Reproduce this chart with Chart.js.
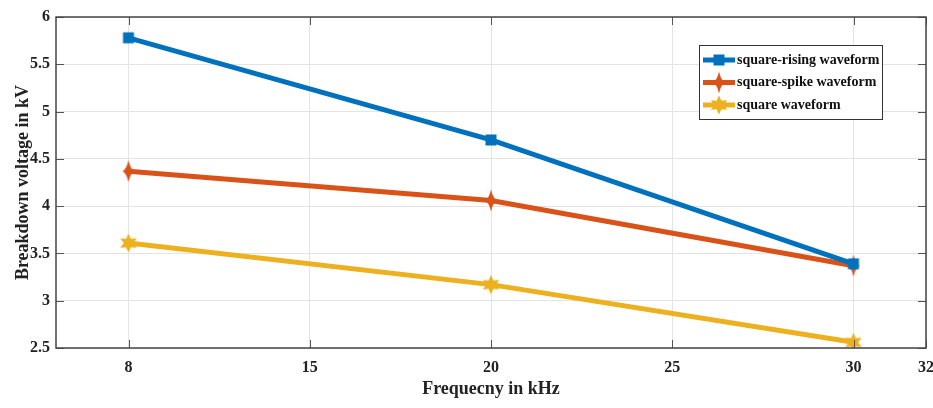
<!DOCTYPE html>
<html>
<head>
<meta charset="utf-8">
<script src="https://cdn.jsdelivr.net/npm/chart.js@4"></script>
<style>
  html, body { margin: 0; padding: 0; background: #fff; }
  #wrap { width: 933px; height: 408px; }
</style>
</head>
<body>
<div id="wrap"><canvas id="chart"></canvas></div>
<script>
// frequency of each measurement (kHz) and where it sits on the plot axis
const frequencies = [8, 20, 30];
const xPositions = [10, 20, 30];
const tickPositions = [10, 15, 20, 25, 30, 32];
const tickLabels = ["8", "15", "20", "25", "30", "32"];

const squareRising = [5.78, 4.70, 3.39];
const squareSpike = [4.37, 4.06, 3.37];
const squareWave = [3.61, 3.17, 2.56];

const seriesNames = ["square-rising waveform", "square-spike waveform", "square waveform"];
const colors = ["#0072BD", "#D95319", "#EDB120"];

const serif = "'Liberation Serif', 'DejaVu Serif', serif";

function marker(kind, color, size) {
  const c = document.createElement("canvas");
  c.width = size; c.height = size;
  const g = c.getContext("2d");
  const m = size / 2;
  g.fillStyle = color;
  g.beginPath();
  if (kind === "square") {
    g.rect(m - 5.5, m - 5.5, 11, 11);
  } else if (kind === "diamond") {
    // tall four-point star like marker
    g.moveTo(m, m - 11);
    g.quadraticCurveTo(m + 2, m - 2, m + 6, m);
    g.quadraticCurveTo(m + 2, m + 2, m, m + 11);
    g.quadraticCurveTo(m - 2, m + 2, m - 6, m);
    g.quadraticCurveTo(m - 2, m - 2, m, m - 11);
  } else {
    // six point star
    for (let i = 0; i < 12; i++) {
      const r = i % 2 === 0 ? 9.5 : 4.8;
      const a = -Math.PI / 2 + i * Math.PI / 6;
      const px = m + r * Math.cos(a), py = m + r * Math.sin(a);
      if (i === 0) g.moveTo(px, py); else g.lineTo(px, py);
    }
  }
  g.closePath();
  g.fill();
  return c;
}

const markers = [
  marker("square", colors[0], 24),
  marker("diamond", colors[1], 24),
  marker("star", colors[2], 24)
];

function pts(values) {
  return values.map((v, i) => ({ x: xPositions[i], y: v, f: frequencies[i] }));
}

const frameAndLegend = {
  id: "frameAndLegend",
  afterDatasetsDraw(chart) {
    const { ctx, chartArea: a, scales } = chart;
    ctx.save();
    // inward tick marks
    ctx.strokeStyle = "#555";
    ctx.lineWidth = 1;
    scales.y.ticks.forEach(t => {
      const y = Math.round(scales.y.getPixelForValue(t.value)) + 0.5;
      ctx.beginPath();
      ctx.moveTo(a.left, y); ctx.lineTo(a.left + 8, y);
      ctx.moveTo(a.right, y); ctx.lineTo(a.right - 8, y);
      ctx.stroke();
    });
    scales.x.ticks.forEach(t => {
      const x = Math.round(scales.x.getPixelForValue(t.value)) + 0.5;
      ctx.beginPath();
      ctx.moveTo(x, a.bottom); ctx.lineTo(x, a.bottom - 8);
      ctx.moveTo(x, a.top); ctx.lineTo(x, a.top + 8);
      ctx.stroke();
    });
    // axes box
    ctx.strokeStyle = "#444";
    ctx.lineWidth = 1.5;
    ctx.strokeRect(a.left, a.top, a.right - a.left, a.bottom - a.top);

    // legend box
    const bx = 699, by = 45, bw = 183, bh = 74;
    ctx.fillStyle = "#fff";
    ctx.fillRect(bx, by, bw, bh);
    ctx.strokeStyle = "#333";
    ctx.lineWidth = 1;
    ctx.strokeRect(bx + 0.5, by + 0.5, bw, bh);
    ctx.font = "bold 14px " + serif;
    ctx.textBaseline = "middle";
    seriesNames.forEach((name, i) => {
      const y = by + 15 + i * 22.5;
      ctx.strokeStyle = colors[i];
      ctx.lineWidth = 5;
      ctx.beginPath();
      ctx.moveTo(bx + 4, y); ctx.lineTo(bx + 36, y);
      ctx.stroke();
      ctx.drawImage(markers[i], bx + 20 - 12, y - 12);
      ctx.fillStyle = "#111";
      ctx.fillText(name, bx + 38, y);
    });
    ctx.restore();
  }
};

new Chart(document.getElementById("chart"), {
  type: "line",
  data: {
    datasets: [squareRising, squareSpike, squareWave].map((vals, i) => ({
      label: seriesNames[i],
      data: pts(vals),
      borderColor: colors[i],
      backgroundColor: colors[i],
      borderWidth: 5,
      pointStyle: markers[i],
      pointRadius: 10,
      tension: 0
    }))
  },
  options: {
    responsive: true,
    maintainAspectRatio: false,
    animation: false,
    layout: { autoPadding: false, padding: { left: 9, right: 0, top: 0, bottom: 4 } },
    plugins: {
      legend: { display: false },
      tooltip: { enabled: false }
    },
    scales: {
      x: {
        type: "linear",
        min: 8,
        max: 32,
        afterBuildTicks: s => { s.ticks = tickPositions.map(v => ({ value: v })); },
        afterFit: s => { s.height = 56; s.paddingRight = 7; s.paddingLeft = 0; },
        grid: { color: "#e4e4e4", lineWidth: 1, drawTicks: false },
        border: { display: false },
        ticks: {
          padding: 10,
          color: "#222",
          font: { family: serif, size: 16, weight: "bold" },
          callback: (v, i) => tickLabels[i]
        },
        title: {
          display: true,
          text: "Frequecny in kHz",
          color: "#222",
          padding: { top: 6 },
          font: { family: serif, size: 18, weight: "bold" }
        }
      },
      y: {
        min: 2.5,
        max: 6,
        afterFit: s => { s.width = 47; s.paddingTop = 17; s.paddingBottom = 0; },
        grid: { color: "#e4e4e4", lineWidth: 1, drawTicks: false },
        border: { display: false },
        ticks: {
          stepSize: 0.5,
          padding: 6,
          color: "#222",
          font: { family: serif, size: 16, weight: "bold" },
          callback: v => String(+v.toFixed(1))
        },
        title: {
          display: true,
          text: "Breakdown voltage in kV",
          color: "#222",
          padding: { bottom: 0 },
          font: { family: serif, size: 18, weight: "bold" }
        }
      }
    }
  },
  plugins: [frameAndLegend]
});
</script>
</body>
</html>
